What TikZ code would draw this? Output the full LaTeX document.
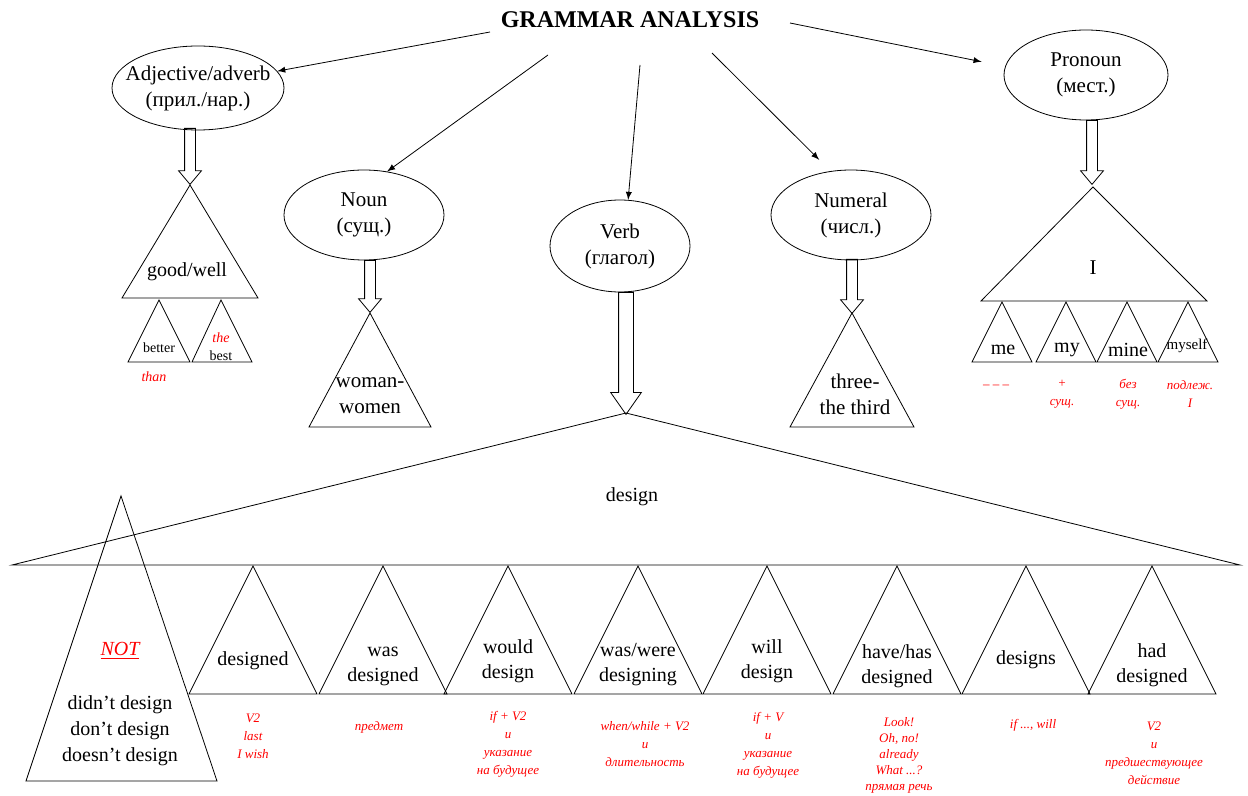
\documentclass[tikz,border=0pt]{standalone}
\usepackage{fontspec}
\setmainfont{Liberation Serif}
\usetikzlibrary{shapes,arrows}

\begin{document}
\begin{tikzpicture}[x=0.5pt,y=-0.5pt,>=latex]
\tikzstyle{part}=[ellipse,draw,inner sep=0pt]
\tikzstyle{hollow}=[single arrow,draw,shape border rotate=270,inner sep=2.5pt,single arrow head extend=3pt,single arrow tip angle=80,anchor=tail]
\tikzstyle{big}=[font=\fontsize{10.5}{13}\selectfont,align=center]
\tikzstyle{word}=[font=\fontsize{10}{12.5}\selectfont,align=center]
\tikzstyle{small}=[font=\fontsize{7}{8.5}\selectfont,align=center]
\tikzstyle{note}=[font=\fontsize{6.5}{9}\selectfont\itshape,text=red,align=center]
\useasboundingbox (0,0) rectangle (1248,796);

% heading
\node[font=\fontsize{12}{14}\selectfont\bfseries] (title) at (630,20) {GRAMMAR ANALYSIS};
\coordinate (t1) at (490,32);
\coordinate (t2) at (548,55);
\coordinate (t3) at (640,65);
\coordinate (t4) at (712,53);
\coordinate (t5) at (790,23);

% parts of speech
\node[part,minimum width=86pt,minimum height=42pt,label={[big]center:Adjective/adverb\\(прил./нар.)}] (adj) at (198,88) {};
\node[part,minimum width=80pt,minimum height=45pt,label={[big]center:Noun\\(сущ.)}] (noun) at (364,215) {};
\node[part,minimum width=70pt,minimum height=46pt,label={[big]center:Verb\\(глагол)}] (verb) at (620,246) {};
\node[part,minimum width=80pt,minimum height=45pt,label={[big]center:Numeral\\(числ.)}] (num) at (851,215) {};
\node[part,minimum width=82pt,minimum height=45pt,label={[big]center:Pronoun\\(мест.)}] (pron) at (1086,75) {};

\draw[->] (t1) -- (adj.12);
\draw[->] (t2) -- (noun.62);
\draw[->] (t3) -- (verb.80);
\draw[->,shorten >=8pt] (t4) -- (num.115);
\draw[->,shorten >=12pt] (t5) -- (pron.174);

% hollow arrows
\node[hollow,minimum height=28pt] (adjdown) at (190,128) {};
\node[hollow,minimum height=26pt] (noundown) at (370,260) {};
\node[hollow,minimum height=61pt,inner sep=3.5pt,single arrow head extend=4pt,single arrow tip angle=70] (verbdown) at (626,292) {};
\node[hollow,minimum height=27pt] (numdown) at (852,259) {};
\node[hollow,minimum height=32pt] (prondown) at (1092,120) {};

% adjective
\draw (190,185) -- (258,298) -- (122,298) -- cycle;
\draw (159,300) -- (190,362) -- (128,362) -- cycle;
\draw (221,300) -- (252,362) -- (192,362) -- cycle;
\node[word] (good) at (187,272) {good/well};
\node[small] (better) at (159,348) {better};
\node[small] (best) at (221,356) {best};
\node[note,font=\fontsize{7}{8.5}\selectfont\itshape] (the) at (221,338) {the};
\node[note,font=\fontsize{7}{8.5}\selectfont\itshape] (than) at (154,377) {than};

% noun and numeral
\draw (370,313) -- (431,427) -- (309,427) -- cycle;
\node[big] (women) at (370,396) {woman-\\women};
\draw (852,313) -- (914,427) -- (790,427) -- cycle;
\node[big] (third) at (855,394) {three-\\the third};

% pronoun
\draw (1093,187) -- (1207,301) -- (981,301) -- cycle;
\node[big] (i) at (1093,268) {I};
\foreach \x/\name/\txt in {1002/me/me,1066/my/my,1127/mine/mine}{
  \draw (\x,302) -- (\x+30,362) -- (\x-30,362) -- cycle;
  \node[word] (\name) at (\x+1,350) {\txt};
}
\draw (1188,302) -- (1218,362) -- (1158,362) -- cycle;
\node[font=\fontsize{7.5}{9}\selectfont] (myself) at (1187,346) {myself};
\node[note] (me-note) at (996,387) {– – –};
\node[note] (my-note) at (1062,394) {+\\сущ.};
\node[note] (mine-note) at (1128,394) {без\\сущ.};
\node[note] (myself-note) at (1190,394) {подлеж.\\I};

% verb
\draw (626,413) -- (1240,565) -- (12,565) -- cycle;
\node[word] (design) at (632,497) {design};
\draw (121,496) -- (217,781) -- (26,781) -- cycle;
\node[word,font=\fontsize{10}{12.5}\selectfont\itshape,text=red] (not) at (120,651) {\underline{NOT}};
\node[word,font=\fontsize{10}{13}\selectfont] (neg) at (120,731) {didn’t design\\don’t design\\doesn’t design};

\foreach \x/\y/\name/\txt in {253/661/past/designed,383/666/pastpass/{was\\designed},
  508/661/cond/{would\\design},638/665/pastcont/{was/were\\designing},
  767/661/fut/{will\\design},897/666/perf/{have/has\\designed},
  1026/660/pres/designs,1152/665/pastperf/{had\\designed}}{
  \draw (\x,566) -- (\x+64,694) -- (\x-64,694) -- cycle;
  \node[word] (\name) at (\x,\y) {\txt};
}

% usage notes
\node[note] (past-note) at (253,736) {V2\\last\\I wish};
\node[note] (pastpass-note) at (379,727) {предмет};
\node[note] (cond-note) at (508,744) {if + V2\\и\\указание\\на будущее};
\node[note] (pastcont-note) at (645,744) {when/while + V2\\и\\длительность};
\node[note] (fut-note) at (768,745) {if + V\\и\\указание\\на будущее};
\node[note,font=\fontsize{6.5}{8}\selectfont\itshape] (perf-note) at (899,755) {Look!\\Oh, no!\\already\\What ...?\\прямая речь};
\node[note] (pres-note) at (1033,725) {if ..., will};
\node[note] (pastperf-note) at (1154,753) {V2\\и\\предшествующее\\действие};
\end{tikzpicture}
\end{document}
